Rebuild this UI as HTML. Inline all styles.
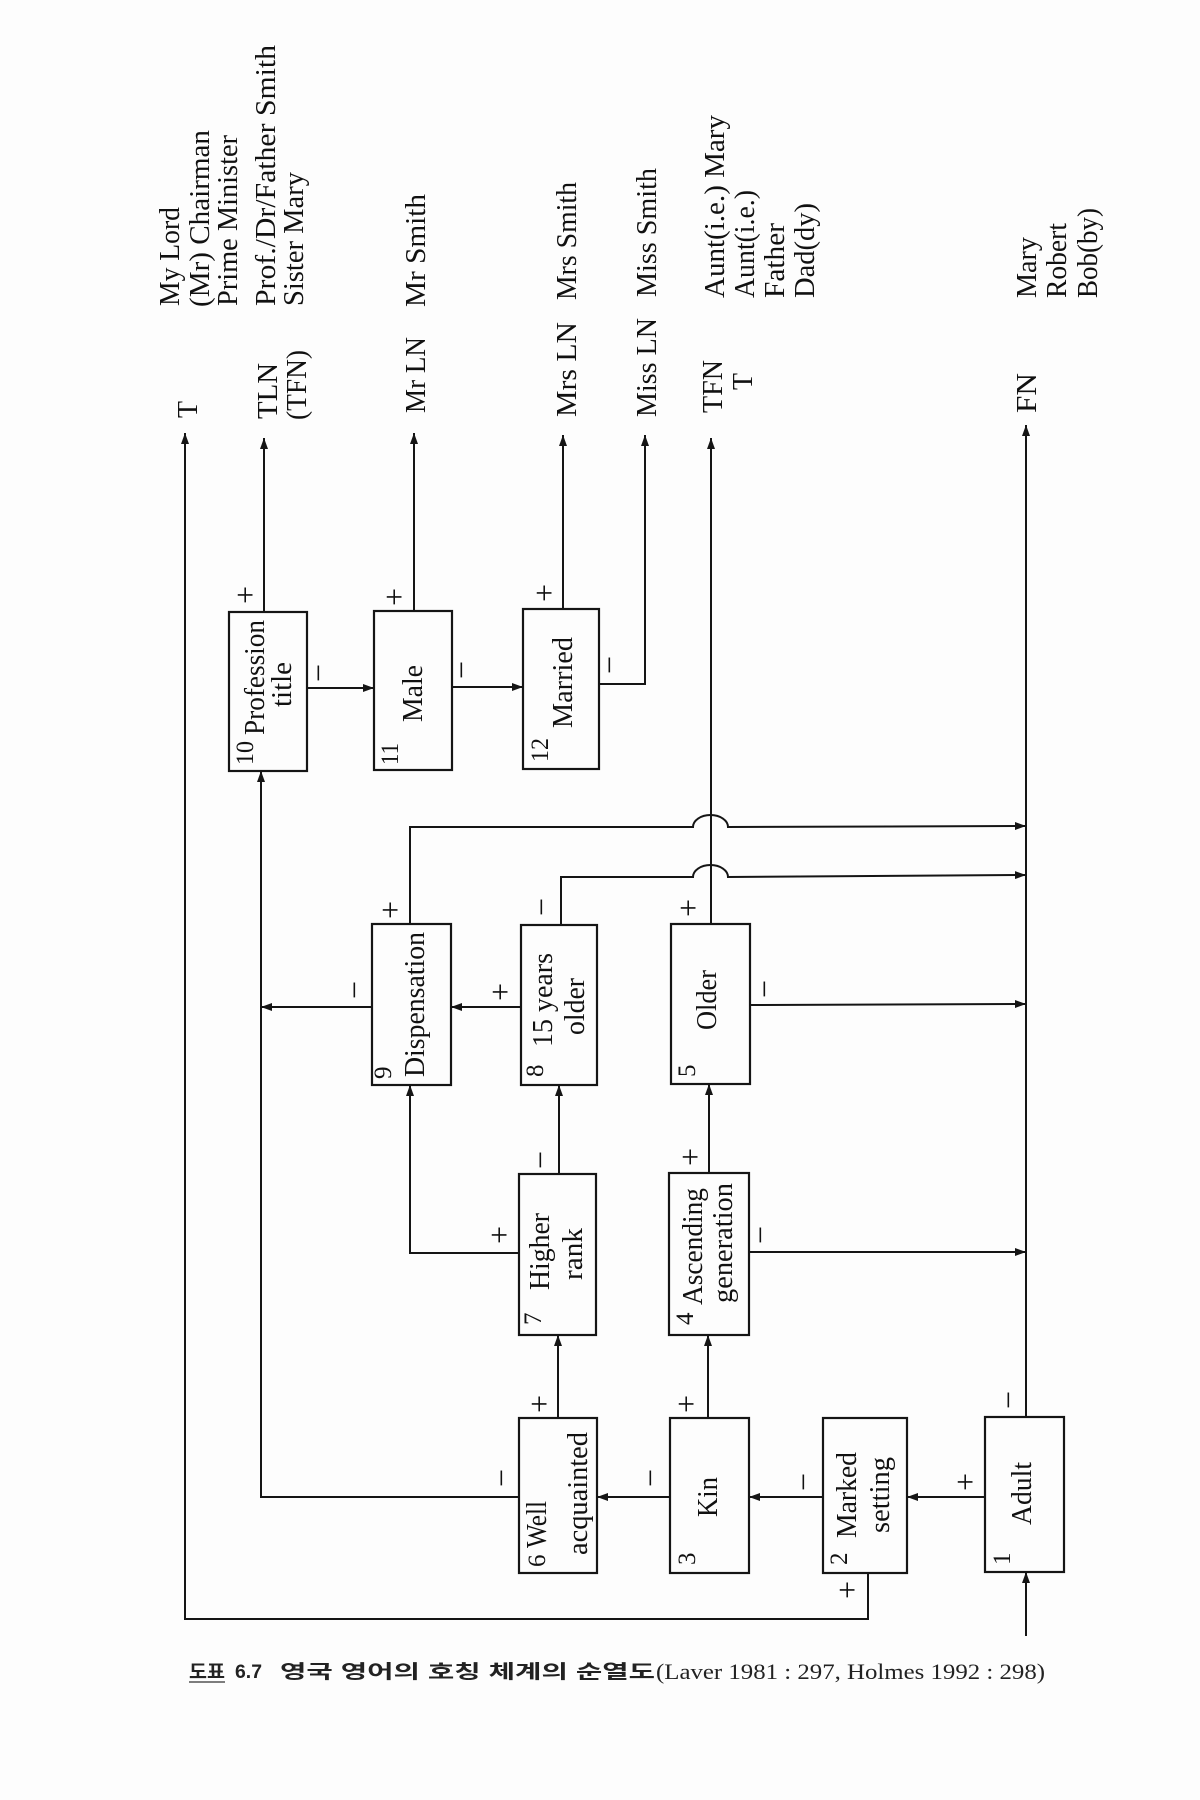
<!DOCTYPE html>
<html>
<head>
<meta charset="utf-8">
<style>
html,body{margin:0;padding:0;background:#fdfdfd;}
svg{display:block;}
.t{font-family:"Liberation Serif","Noto Serif CJK SC",serif;font-size:28px;fill:#111;}
.n{font-family:"Liberation Serif",serif;font-size:25px;fill:#111;}
.s{font-family:"Liberation Serif",serif;font-size:32px;fill:#111;}
.ln{fill:none;stroke:#151515;stroke-width:2;}
.bx{fill:none;stroke:#151515;stroke-width:2.2;}
</style>
</head>
<body>
<svg width="1200" height="1800" viewBox="0 0 1200 1800" xmlns="http://www.w3.org/2000/svg">
<defs>
<marker id="a" viewBox="0 0 11 8" refX="11" refY="4" markerWidth="11" markerHeight="8" markerUnits="userSpaceOnUse" orient="auto">
<path d="M0,0 L11,4 L0,8 z" fill="#151515"/>
</marker>
</defs>
<rect width="1200" height="1800" fill="#fdfdfd"/>

<!-- Boxes -->
<rect class="bx" x="229" y="612" width="78" height="159"/>
<rect class="bx" x="374" y="611" width="78" height="159"/>
<rect class="bx" x="523" y="609" width="76" height="160"/>
<rect class="bx" x="372" y="924" width="79" height="161"/>
<rect class="bx" x="521" y="925" width="76" height="160"/>
<rect class="bx" x="671" y="924" width="79" height="160"/>
<rect class="bx" x="519" y="1174" width="77" height="161"/>
<rect class="bx" x="669" y="1173" width="80" height="162"/>
<rect class="bx" x="519" y="1418" width="78" height="155"/>
<rect class="bx" x="670" y="1418" width="79" height="155"/>
<rect class="bx" x="823" y="1418" width="84" height="155"/>
<rect class="bx" x="985" y="1417" width="79" height="155"/>

<!-- Connectors -->
<path class="ln" d="M868,1573 L868,1619 L185,1619 L185,433" marker-end="url(#a)"/>
<path class="ln" d="M264,612 L264,438" marker-end="url(#a)"/>
<path class="ln" d="M414,611 L414,433" marker-end="url(#a)"/>
<path class="ln" d="M563,609 L563,435" marker-end="url(#a)"/>
<path class="ln" d="M599,684 L645,684 L645,435" marker-end="url(#a)"/>
<path class="ln" d="M307,688 L374,688" marker-end="url(#a)"/>
<path class="ln" d="M452,687 L523,687" marker-end="url(#a)"/>
<path class="ln" d="M519,1497 L261,1497 L261,771" marker-end="url(#a)"/>
<path class="ln" d="M711,924 L711,438" marker-end="url(#a)"/>
<path class="ln" d="M410,924 L410,827 L693,827 A17.5,12 0 0 1 728,827 L1026,826" marker-end="url(#a)"/>
<path class="ln" d="M561,925 L561,877 L693,877 A17.5,12 0 0 1 728,877 L1026,875" marker-end="url(#a)"/>
<path class="ln" d="M750,1005 L1026,1004" marker-end="url(#a)"/>
<path class="ln" d="M749,1252 L1026,1252" marker-end="url(#a)"/>
<path class="ln" d="M521,1007 L451,1007" marker-end="url(#a)"/>
<path class="ln" d="M372,1007 L261,1007" marker-end="url(#a)"/>
<path class="ln" d="M559,1174 L559,1085" marker-end="url(#a)"/>
<path class="ln" d="M519,1253 L410,1253 L410,1085" marker-end="url(#a)"/>
<path class="ln" d="M709,1173 L709,1084" marker-end="url(#a)"/>
<path class="ln" d="M558,1418 L558,1335" marker-end="url(#a)"/>
<path class="ln" d="M708,1418 L708,1335" marker-end="url(#a)"/>
<path class="ln" d="M670,1497 L597,1497" marker-end="url(#a)"/>
<path class="ln" d="M823,1497 L749,1497" marker-end="url(#a)"/>
<path class="ln" d="M985,1497 L907,1497" marker-end="url(#a)"/>
<path class="ln" d="M1026,1417 L1026,425" marker-end="url(#a)"/>
<path class="ln" d="M1026,1636 L1026,1572" marker-end="url(#a)"/>

<!-- Top output labels -->
<text class="t" transform="translate(179,306) rotate(-90)" textLength="99" lengthAdjust="spacingAndGlyphs">My Lord</text>
<text class="t" transform="translate(209,307) rotate(-90)" textLength="177" lengthAdjust="spacingAndGlyphs">(Mr) Chairman</text>
<text class="t" transform="translate(237,306) rotate(-90)" textLength="171" lengthAdjust="spacingAndGlyphs">Prime Minister</text>
<text class="t" transform="translate(275,306) rotate(-90)" textLength="261" lengthAdjust="spacingAndGlyphs">Prof./Dr/Father Smith</text>
<text class="t" transform="translate(303,306) rotate(-90)" textLength="134" lengthAdjust="spacingAndGlyphs">Sister Mary</text>

<text class="t" transform="translate(197,418) rotate(-90)" textLength="17" lengthAdjust="spacingAndGlyphs">T</text>
<text class="t" transform="translate(277,419) rotate(-90)" textLength="56" lengthAdjust="spacingAndGlyphs">TLN</text>
<text class="t" transform="translate(306,420) rotate(-90)" textLength="70" lengthAdjust="spacingAndGlyphs">(TFN)</text>

<text class="t" transform="translate(425,413) rotate(-90)" textLength="76" lengthAdjust="spacingAndGlyphs">Mr LN</text>
<text class="t" transform="translate(425,307) rotate(-90)" textLength="113" lengthAdjust="spacingAndGlyphs">Mr Smith</text>

<text class="t" transform="translate(576,417) rotate(-90)" textLength="95" lengthAdjust="spacingAndGlyphs">Mrs LN</text>
<text class="t" transform="translate(576,300) rotate(-90)" textLength="118" lengthAdjust="spacingAndGlyphs">Mrs Smith</text>

<text class="t" transform="translate(656,417) rotate(-90)" textLength="99" lengthAdjust="spacingAndGlyphs">Miss LN</text>
<text class="t" transform="translate(656,297) rotate(-90)" textLength="129" lengthAdjust="spacingAndGlyphs">Miss Smith</text>

<text class="t" transform="translate(722,413) rotate(-90)" textLength="53" lengthAdjust="spacingAndGlyphs">TFN</text>
<text class="t" transform="translate(752,390) rotate(-90)" textLength="17" lengthAdjust="spacingAndGlyphs">T</text>

<text class="t" transform="translate(724,298) rotate(-90)" textLength="183" lengthAdjust="spacingAndGlyphs">Aunt(i.e.) Mary</text>
<text class="t" transform="translate(754,298) rotate(-90)" textLength="108" lengthAdjust="spacingAndGlyphs">Aunt(i.e.)</text>
<text class="t" transform="translate(784,298) rotate(-90)" textLength="75" lengthAdjust="spacingAndGlyphs">Father</text>
<text class="t" transform="translate(814,298) rotate(-90)" textLength="95" lengthAdjust="spacingAndGlyphs">Dad(dy)</text>

<text class="t" transform="translate(1036,413) rotate(-90)" textLength="40" lengthAdjust="spacingAndGlyphs">FN</text>
<text class="t" transform="translate(1036,298) rotate(-90)" textLength="61" lengthAdjust="spacingAndGlyphs">Mary</text>
<text class="t" transform="translate(1066,298) rotate(-90)" textLength="75" lengthAdjust="spacingAndGlyphs">Robert</text>
<text class="t" transform="translate(1097,298) rotate(-90)" textLength="90" lengthAdjust="spacingAndGlyphs">Bob(by)</text>

<!-- Box labels -->
<text class="n" transform="translate(253,765) rotate(-90)" textLength="24" lengthAdjust="spacingAndGlyphs">10</text>
<text class="t" transform="translate(264,735) rotate(-90)" textLength="115" lengthAdjust="spacingAndGlyphs">Profession</text>
<text class="t" transform="translate(291,707) rotate(-90)" textLength="45" lengthAdjust="spacingAndGlyphs">title</text>

<text class="n" transform="translate(398,765) rotate(-90)" textLength="22" lengthAdjust="spacingAndGlyphs">11</text>
<text class="t" transform="translate(422,722) rotate(-90)" textLength="57" lengthAdjust="spacingAndGlyphs">Male</text>

<text class="n" transform="translate(548,762) rotate(-90)" textLength="24" lengthAdjust="spacingAndGlyphs">12</text>
<text class="t" transform="translate(572,728) rotate(-90)" textLength="91" lengthAdjust="spacingAndGlyphs">Married</text>

<text class="n" transform="translate(391,1079) rotate(-90)">9</text>
<text class="t" transform="translate(424,1077) rotate(-90)" textLength="145" lengthAdjust="spacingAndGlyphs">Dispensation</text>

<text class="n" transform="translate(543,1077) rotate(-90)">8</text>
<text class="t" transform="translate(552,1047) rotate(-90)" textLength="94" lengthAdjust="spacingAndGlyphs">15 years</text>
<text class="t" transform="translate(584,1035) rotate(-90)" textLength="57" lengthAdjust="spacingAndGlyphs">older</text>

<text class="n" transform="translate(695,1077) rotate(-90)">5</text>
<text class="t" transform="translate(716,1030) rotate(-90)" textLength="60" lengthAdjust="spacingAndGlyphs">Older</text>

<text class="n" transform="translate(541,1325) rotate(-90)">7</text>
<text class="t" transform="translate(549,1290) rotate(-90)" textLength="77" lengthAdjust="spacingAndGlyphs">Higher</text>
<text class="t" transform="translate(582,1280) rotate(-90)" textLength="52" lengthAdjust="spacingAndGlyphs">rank</text>

<text class="n" transform="translate(693,1325) rotate(-90)">4</text>
<text class="t" transform="translate(702,1305) rotate(-90)" textLength="117" lengthAdjust="spacingAndGlyphs">Ascending</text>
<text class="t" transform="translate(732,1303) rotate(-90)" textLength="120" lengthAdjust="spacingAndGlyphs">generation</text>

<text class="n" transform="translate(545,1567) rotate(-90)">6</text>
<text class="t" transform="translate(546,1548) rotate(-90)" textLength="47" lengthAdjust="spacingAndGlyphs">Well</text>
<text class="t" transform="translate(587,1555) rotate(-90)" textLength="123" lengthAdjust="spacingAndGlyphs">acquainted</text>

<text class="n" transform="translate(695,1565) rotate(-90)">3</text>
<text class="t" transform="translate(717,1517) rotate(-90)" textLength="40" lengthAdjust="spacingAndGlyphs">Kin</text>

<text class="n" transform="translate(847,1565) rotate(-90)">2</text>
<text class="t" transform="translate(856,1538) rotate(-90)" textLength="86" lengthAdjust="spacingAndGlyphs">Marked</text>
<text class="t" transform="translate(889,1533) rotate(-90)" textLength="76" lengthAdjust="spacingAndGlyphs">setting</text>

<text class="n" transform="translate(1010,1565) rotate(-90)">1</text>
<text class="t" transform="translate(1031,1525) rotate(-90)" textLength="63" lengthAdjust="spacingAndGlyphs">Adult</text>

<!-- +/- signs -->
<g class="s" text-anchor="middle">
<text transform="translate(256,595) rotate(-90)">+</text>
<text transform="translate(329,673) rotate(-90)">−</text>
<text transform="translate(405,597) rotate(-90)">+</text>
<text transform="translate(472,670) rotate(-90)">−</text>
<text transform="translate(555,593) rotate(-90)">+</text>
<text transform="translate(620,665) rotate(-90)">−</text>
<text transform="translate(401,910) rotate(-90)">+</text>
<text transform="translate(365,990) rotate(-90)">−</text>
<text transform="translate(511,992) rotate(-90)">+</text>
<text transform="translate(552,907) rotate(-90)">−</text>
<text transform="translate(699,908) rotate(-90)">+</text>
<text transform="translate(775,989) rotate(-90)">−</text>
<text transform="translate(551,1160) rotate(-90)">−</text>
<text transform="translate(510,1235) rotate(-90)">+</text>
<text transform="translate(701,1157) rotate(-90)">+</text>
<text transform="translate(771,1235) rotate(-90)">−</text>
<text transform="translate(550,1404) rotate(-90)">+</text>
<text transform="translate(512,1478) rotate(-90)">−</text>
<text transform="translate(697,1404) rotate(-90)">+</text>
<text transform="translate(661,1478) rotate(-90)">−</text>
<text transform="translate(814,1482) rotate(-90)">−</text>
<text transform="translate(858,1590) rotate(-90)">+</text>
<text transform="translate(976,1482) rotate(-90)">+</text>
<text transform="translate(1019,1400) rotate(-90)">−</text>
</g>

<!-- Caption -->
<text x="189" y="1678" font-family="'Noto Sans CJK KR', 'NanumGothic', sans-serif" font-weight="bold" font-size="19" fill="#222" textLength="36" lengthAdjust="spacingAndGlyphs">도표</text>
<line x1="189" y1="1682" x2="225" y2="1682" stroke="#333" stroke-width="1.2"/>
<text x="235" y="1678" font-family="'Liberation Sans', sans-serif" font-weight="bold" font-size="19" fill="#222" textLength="27" lengthAdjust="spacingAndGlyphs">6.7</text>
<text x="280" y="1678" font-family="'Liberation Sans', 'Noto Sans CJK KR', sans-serif" font-weight="bold" font-size="19" fill="#222" textLength="375" lengthAdjust="spacingAndGlyphs">영국 영어의 호칭 체계의 순열도</text>
<text x="656" y="1679" font-family="'Liberation Serif', serif" font-size="22" fill="#222" textLength="389" lengthAdjust="spacingAndGlyphs">(Laver 1981 : 297, Holmes 1992 : 298)</text>
</svg>
</body>
</html>
